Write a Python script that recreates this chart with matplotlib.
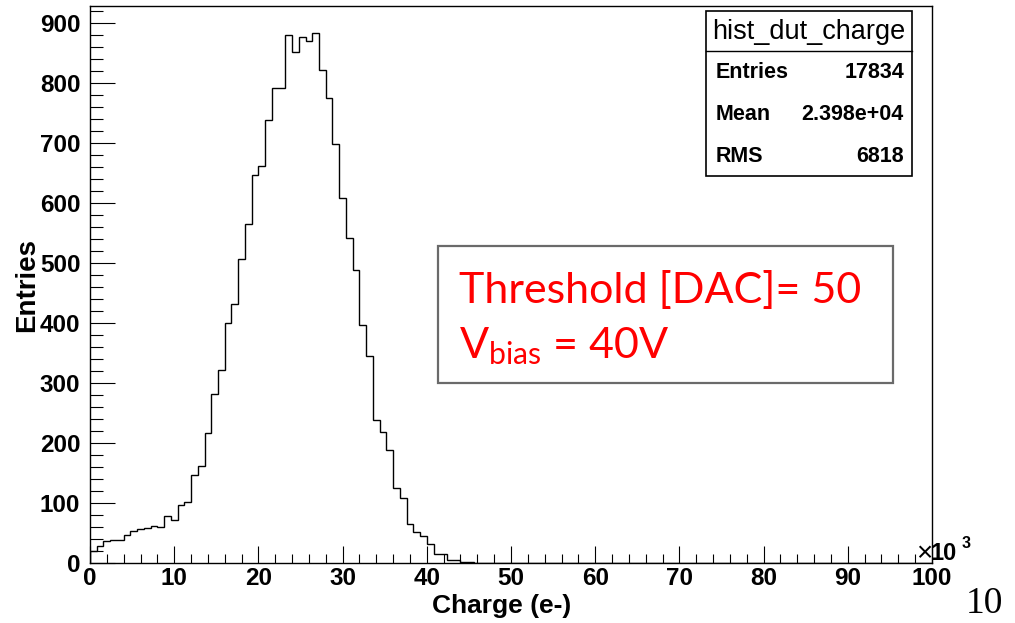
import numpy as np
import matplotlib
matplotlib.use("Agg")
import matplotlib.pyplot as plt
from matplotlib.patches import Rectangle
from matplotlib.lines import Line2D

# bin contents (800 e- bins from 0), rest of the bins are empty
counts_nonzero = [21, 29, 37, 39, 39, 48, 54, 57, 59, 63,
                  60, 79, 72, 98, 103, 148, 163, 218, 282, 322,
                  400, 433, 508, 565, 647, 663, 739, 793, 792, 880,
                  852, 878, 871, 884, 822, 775, 699, 609, 542, 489,
                  397, 346, 239, 219, 189, 126, 109, 65, 52, 46,
                  33, 16, 15, 6, 5, 3, 2, 1]
n_bins = 125
x_range = (0, 100)
y_max = 929

x_ticks = list(range(0, 101, 10))
y_ticks = list(range(0, 901, 100))

stats_title = "hist_dut_charge"
stats_rows = [("Entries", "17834"), ("Mean", "2.398e+04"), ("RMS", "6818")]

counts = np.zeros(n_bins)
counts[:len(counts_nonzero)] = counts_nonzero
edges = np.linspace(x_range[0], x_range[1], n_bins + 1)

plt.rcParams['font.family'] = ['Liberation Sans', 'DejaVu Sans']
plt.rcParams['mathtext.fontset'] = 'custom'
plt.rcParams['mathtext.rm'] = 'Lato'

W, H = 1015, 623
fig = plt.figure(figsize=(W / 100, H / 100), dpi=100)
# axes frame in pixels: x 90..932, y 6..563
ax = fig.add_axes([90 / W, (H - 563.3) / H, (932 - 90) / W, (563.3 - 6) / H])

ax.stairs(counts, edges, color='black', lw=1.0)
ax.set_xlim(*x_range)
ax.set_ylim(0, y_max)

ax.set_xticks(x_ticks)
ax.set_yticks(y_ticks)
ax.set_xticks(np.arange(0, 101, 2), minor=True)
ax.set_yticks(np.arange(0, y_max, 20), minor=True)
ax.tick_params(which='both', direction='in', width=0.8, color='black')
ax.tick_params(axis='x', which='major', length=12, pad=3)
ax.tick_params(axis='x', which='minor', length=6.3)
ax.tick_params(axis='y', which='major', length=18, pad=7)
ax.tick_params(axis='y', which='minor', length=9.4)
for lab in ax.get_xticklabels() + ax.get_yticklabels():
    lab.set_fontweight('bold')
    lab.set_fontsize(17.5)
for sp in ax.spines.values():
    sp.set_linewidth(1.0)

fig.text(502 / W, 1 - 606 / H, "Charge (e-)", ha='center', va='center',
         fontsize=19, fontweight='bold')
fig.text(27 / W, 1 - 285 / H, "Entries", ha='center', va='center',
         rotation=90, fontsize=20, fontweight='bold')

# x10^3 multiplier at the end of the x axis
fig.text(916 / W, 1 - 554 / H, "×", ha='left', va='center', fontsize=20)
fig.text(931 / W, 1 - 553 / H, "10", ha='left', va='center', fontsize=17,
         fontweight='bold')
fig.text(962 / W, 1 - 544 / H, "3", ha='left', va='center', fontsize=11.5,
         fontweight='bold')

# stats box
bx0, bx1, by0, by1 = 706, 912, 11, 176
fig.patches.append(Rectangle((bx0 / W, 1 - by1 / H), (bx1 - bx0) / W, (by1 - by0) / H,
                             transform=fig.transFigure, facecolor='white',
                             edgecolor='black', lw=1.2, zorder=5))
fig.lines.append(Line2D([bx0 / W, bx1 / W], [1 - 51 / H, 1 - 51 / H],
                        transform=fig.transFigure, color='black', lw=1.0, zorder=6))
fig.text((bx0 + bx1) / 2 / W, 1 - 32 / H, stats_title, ha='center', va='center',
         fontsize=19.5, zorder=7)
for i, (name, val) in enumerate(stats_rows):
    yy = 1 - (73 + 41.5 * i) / H
    fig.text(716 / W, yy, name, ha='left', va='center', fontsize=15.5,
             fontweight='bold', zorder=7)
    fig.text(904 / W, yy, val, ha='right', va='center', fontsize=15.5,
             fontweight='bold', zorder=7)

# annotation box
fig.patches.append(Rectangle((438 / W, 1 - 382.5 / H), (893 - 438) / W, (382.5 - 246.5) / H,
                             transform=fig.transFigure, facecolor='white',
                             edgecolor='#6a6a6a', lw=1.6, zorder=5))
fig.text(459 / W, 1 - 303 / H, "Threshold [DAC]= 50", ha='left', va='baseline',
         fontsize=31, color='#ff0000', family='Lato', zorder=7)
fig.text(459 / W, 1 - 358 / H, r"V$_{\mathrm{bias}}$ = 40V", ha='left', va='baseline',
         fontsize=31, color='#ff0000', family='Lato', math_fontfamily='custom', zorder=7)

# stray slide text at the bottom-right corner
fig.text(966 / W, 1 - 613 / H, "10", ha='left', va='baseline', fontsize=27,
         family='Liberation Serif')

fig.savefig("out.png", dpi=100)
